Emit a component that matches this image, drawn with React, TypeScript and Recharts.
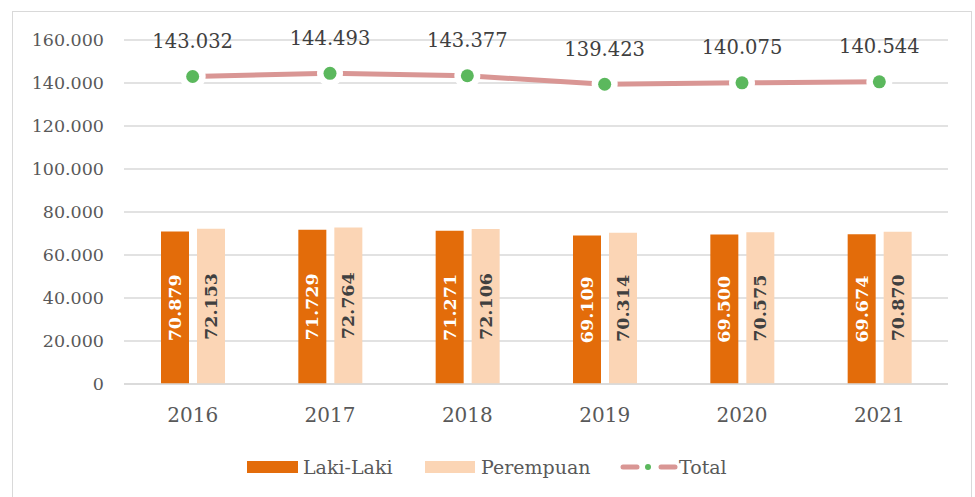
import React from 'react';
import { ComposedChart, Bar, Line, XAxis, YAxis, CartesianGrid, Legend, LabelList } from 'recharts';

const years = ['2016', '2017', '2018', '2019', '2020', '2021'];
const lakiLaki = [70879, 71729, 71271, 69109, 69500, 69674];
const perempuan = [72153, 72764, 72106, 70314, 70575, 70870];
const total = [143032, 144493, 143377, 139423, 140075, 140544];
const yTicks = [0, 20000, 40000, 60000, 80000, 100000, 120000, 140000, 160000];

const data = years.map((y, i) => ({ year: y, laki: lakiLaki[i], perempuan: perempuan[i], total: total[i] }));

const FONT = '"DejaVu Serif", serif';
const ORANGE = '#e36c0a';
const PEACH = '#fbd5b5';
const ROSE = '#d99694';
const GREEN = '#5bb85d';
const GRID = '#d9d9d9';
const TEXT = '#595959';

const fmt = (v: number) => String(v).replace(/\B(?=(\d{3})+(?!\d))/g, '.');

const barLabel = (color: string) => (props: any) => {
  const { x, y, width, height, value } = props;
  const cx = Number(x) + Number(width) / 2;
  const cy = Number(y) + Number(height) / 2;
  return (
    <text x={cx} y={cy} transform={`rotate(-90 ${cx} ${cy})`} textAnchor="middle" dominantBaseline="central"
      fill={color} fontSize={17.5} fontWeight="bold" fontFamily={FONT}>{fmt(Number(value))}</text>
  );
};

const lineLabel = (props: any) => {
  const { x, y, value } = props;
  return (
    <text x={Number(x)} y={Number(y) - 35} textAnchor="middle" dominantBaseline="central"
      fill="#404040" fontSize={19.5} fontFamily={FONT}>{fmt(Number(value))}</text>
  );
};

const Dot = (props: any) => {
  const { cx, cy } = props;
  return (
    <g>
      <circle cx={cx} cy={cy} r={13} fill="#ffffff" />
      <circle cx={cx} cy={cy} r={6.5} fill={GREEN} />
    </g>
  );
};

const LegendContent = () => (
  <svg width={975} height={34} style={{ display: 'block' }}>
    <g fontFamily={FONT} fontSize={19} fill={TEXT}>
      <rect x={247} y={11} width={51} height={12} fill={ORANGE} />
      <text x={303} y={17} dominantBaseline="central">Laki-Laki</text>
      <rect x={425} y={11} width={50} height={12} fill={PEACH} />
      <text x={481} y={17} dominantBaseline="central">Perempuan</text>
      <line x1={623} y1={17} x2={637} y2={17} stroke={ROSE} strokeWidth={5} strokeLinecap="round" />
      <circle cx={648} cy={17} r={3} fill={GREEN} />
      <line x1={661} y1={17} x2={675} y2={17} stroke={ROSE} strokeWidth={5} strokeLinecap="round" />
      <text x={679} y={17} dominantBaseline="central">Total</text>
    </g>
  </svg>
);

export default function App() {
  return (
    <div style={{ position: 'absolute', left: 0, top: 0, width: 975, height: 497, background: '#fff' }}>
      <div style={{ position: 'absolute', left: 12, top: 11, width: 958, height: 490, border: `1.5px solid ${GRID}` }} />
      <ComposedChart width={975} height={497} data={data}
        margin={{ top: 40, right: 27, left: 0, bottom: 83 }} barGap={8} barSize={28}>
        <CartesianGrid vertical={false} stroke={GRID} strokeWidth={1.5} />
        <XAxis dataKey="year" height={30} tickSize={0} tickMargin={24} axisLine={{ stroke: GRID, strokeWidth: 1.5 }}
          tick={{ fill: TEXT, fontSize: 20, fontFamily: FONT }} />
        <YAxis width={124} domain={[0, 160000]} ticks={yTicks} tickFormatter={fmt} tickSize={0} tickMargin={20}
          axisLine={false} tick={{ fill: TEXT, fontSize: 17.5, fontFamily: FONT }} interval={0} />
        <Legend layout="horizontal" verticalAlign="middle" align="center" content={LegendContent}
          wrapperStyle={{ position: 'absolute', top: 450, left: 0, width: 975, height: 34 }} />
        <Bar dataKey="laki" name="Laki-Laki" fill={ORANGE} isAnimationActive={false}>
          <LabelList dataKey="laki" content={barLabel('#ffffff')} />
        </Bar>
        <Bar dataKey="perempuan" name="Perempuan" fill={PEACH} isAnimationActive={false}>
          <LabelList dataKey="perempuan" content={barLabel('#404040')} />
        </Bar>
        <Line dataKey="total" name="Total" stroke={ROSE} strokeWidth={5} dot={<Dot />} activeDot={false}
          isAnimationActive={false} type="linear">
          <LabelList dataKey="total" content={lineLabel} />
        </Line>
      </ComposedChart>
    </div>
  );
}
